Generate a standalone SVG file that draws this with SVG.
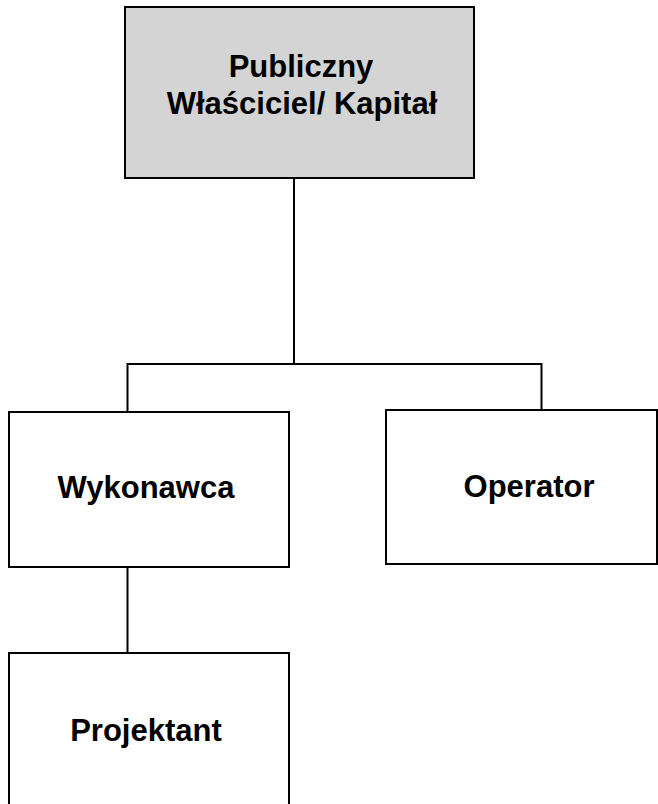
<svg xmlns="http://www.w3.org/2000/svg" width="658" height="804" viewBox="0 0 658 804">
<style>
.box{stroke:#000;stroke-width:2;fill:#fff}
.gray{fill:#d4d4d4}
.lbl{font-family:"Liberation Sans",Arial,sans-serif;font-weight:bold;font-size:31px;fill:#000;text-anchor:middle}
.conn{stroke:#000;stroke-width:2;fill:none}
</style>
<rect width="658" height="804" fill="#fff"/>
<g id="connectors">
<line class="conn" x1="294" y1="178" x2="294" y2="364"/>
<polyline class="conn" points="127.5,412 127.5,364 541.5,364 541.5,410"/>
<line class="conn" x1="127.5" y1="567" x2="127.5" y2="653"/>
</g>
<g id="node-publiczny">
<rect class="box gray" x="125" y="7" width="349" height="171"/>
<text class="lbl" x="301" y="77">Publiczny</text>
<text class="lbl" x="302" y="114">Właściciel/ Kapitał</text>
</g>
<g id="node-wykonawca">
<rect class="box" x="9" y="412" width="280" height="155"/>
<text class="lbl" x="146" y="498">Wykonawca</text>
</g>
<g id="node-operator">
<rect class="box" x="386" y="410" width="271" height="154"/>
<text class="lbl" x="529" y="497">Operator</text>
</g>
<g id="node-projektant">
<rect class="box" x="9" y="653" width="280" height="160"/>
<text class="lbl" x="146" y="741">Projektant</text>
</g>
</svg>
